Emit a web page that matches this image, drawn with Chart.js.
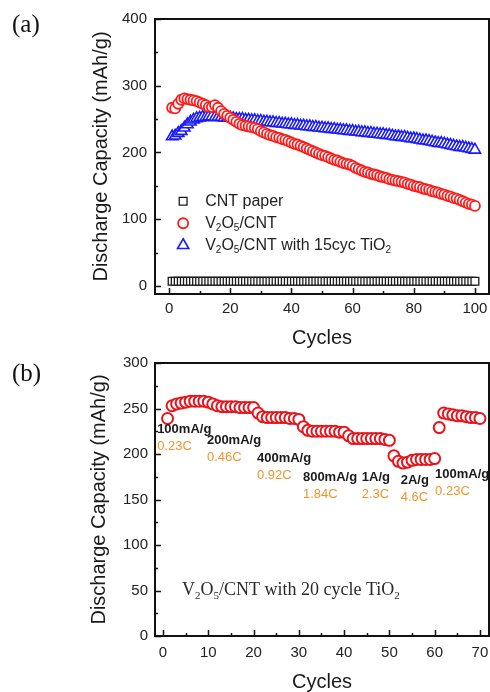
<!DOCTYPE html>
<html>
<head>
<meta charset="utf-8">
<script src="https://cdn.jsdelivr.net/npm/chart.js@4.4.1/dist/chart.umd.min.js"></script>
<style>
  html, body { margin: 0; padding: 0; background: #fff; }
  #wrap { position: relative; width: 490px; height: 692px; overflow: hidden; }
  canvas { position: absolute; left: 0; }
  #chartA { top: 0; }
  #chartB { top: 344px; }
  .panel { position: absolute; left: 12px; font: 25px 'Liberation Serif', 'Times New Roman', serif; line-height: 25px; color: #111; }
</style>
</head>
<body>
<div id="wrap">
  <canvas id="chartA" width="490" height="348"></canvas>
  <canvas id="chartB" width="490" height="352"></canvas>
  <div class="panel" style="top:11px">(a)</div>
  <div class="panel" style="top:360px">(b)</div>
</div>
<script>
// ---- panel (a): cycling at one rate, 100 cycles ----
const seriesNamesA = ['CNT paper', 'V_2O_5/CNT', 'V_2O_5/CNT with 15cyc TiO_2'];
const cntPaper = [
  7,7,7,7,7,7,7,7,7,7, 7,7,7,7,7,7,7,7,7,7, 7,7,7,7,7,7,7,7,7,7, 7,7,7,7,7,7,7,7,7,7,
  7,7,7,7,7,7,7,7,7,7, 7,7,7,7,7,7,7,7,7,7, 7,7,7,7,7,7,7,7,7,7, 7,7,7,7,7,7,7,7,7,7,
  7,7,7,7,7,7,7,7,7,7, 7,7,7,7,7,7,7,7,7,7
];
const v2o5Cnt = [
  267,266,273,279,281,280,279,278,277,275, 273,271,268,268,271,267,262,258,255,252,
  249,246,243,241,240,239,238,237,235,232, 230,228,226,225,223,222,220,219,217,215,
  213,212,210,208,206,204,202,200,198,196, 195,193,191,189,188,186,184,183,182,180,
  177,175,173,171,170,168,167,166,164,163, 162,160,159,158,157,156,155,153,152,150,
  149,148,146,145,144,142,141,140,138,137, 135,134,132,131,129,127,125,123,122,120
];
const v2o5CntTiO2 = [
  224,225,229,232,237,242,246,249,251,252, 253,253,254,254,253,253,253,252,252,252,
  251,250,250,250,249,249,248,248,247,247, 246,246,245,245,244,244,243,243,242,242,
  241,241,240,240,239,239,238,238,237,237, 236,236,235,235,234,234,233,233,232,232,
  231,231,230,230,229,229,228,228,227,227, 226,226,225,224,224,223,223,222,221,221,
  220,219,218,218,217,216,215,214,214,213, 212,211,210,209,208,208,207,206,205,204
];
const xTicksA = [0, 20, 40, 60, 80, 100];
const xMinorA = [10, 30, 50, 70, 90];
const yTicksA = [0, 100, 200, 300, 400];
const yMinorA = [50, 150, 250, 350];

// ---- panel (b): rate capability, 70 cycles ----
const rateCapacity = [
  239,253,255,256,257,258,258,258,258,257, 255,253,252,252,252,252,251,251,251,251,
  245,241,240,240,240,240,240,239,239,238, 230,226,225,225,225,225,225,225,224,224,
  220,217,217,217,217,217,217,217,216,215, 198,192,190,191,193,194,194,194,194,195,
  229,245,244,243,242,242,241,240,240,239
];
const currentLabels = ['100mA/g', '200mA/g', '400mA/g', '800mA/g', '1A/g', '2A/g', '100mA/g'];
const cRateLabels = ['0.23C', '0.46C', '0.92C', '1.84C', '2.3C', '4.6C', '0.23C'];
const sampleNameB = 'V_2O_5/CNT with 20 cycle TiO_2';
const xTicksB = [0, 10, 20, 30, 40, 50, 60, 70];
const xMinorB = [5, 15, 25, 35, 45, 55, 65];
const yTicksB = [0, 50, 100, 150, 200, 250, 300];
const yMinorB = [25, 75, 125, 175, 225, 275];

const SANS = "'Liberation Sans', Arial, sans-serif";
const SERIF = "'Liberation Serif', 'Times New Roman', serif";
Chart.defaults.font.family = SANS;
Chart.defaults.color = '#222';

// text with "_5" style subscripts
function drawRich(ctx, text, x, y, size, family, weight, color) {
  ctx.save();
  ctx.fillStyle = color;
  ctx.textBaseline = 'middle';
  ctx.textAlign = 'left';
  let cx = x;
  text.split(/(_\d)/).forEach(p => {
    if (!p) return;
    if (p[0] === '_') {
      ctx.font = `${weight} ${Math.round(size * 0.62)}px ${family}`;
      ctx.fillText(p.slice(1), cx, y + size * 0.32);
      cx += ctx.measureText(p.slice(1)).width;
    } else {
      ctx.font = `${weight} ${size}px ${family}`;
      ctx.fillText(p, cx, y);
      cx += ctx.measureText(p).width;
    }
  });
  ctx.restore();
}

const toPoints = vals => vals.map((v, i) => ({ x: i + 1, y: v }));

// box frame plus inward major/minor ticks
const framePlugin = {
  id: 'frame',
  afterDatasetsDraw(chart, args, opts) {
    const { ctx, chartArea: a, scales: { x, y } } = chart;
    ctx.save();
    ctx.strokeStyle = '#111';
    ctx.lineWidth = 1.5;
    ctx.beginPath();
    const xt = (vals, len) => vals.forEach(v => {
      const px = Math.round(x.getPixelForValue(v)) + 0.5;
      ctx.moveTo(px, a.bottom); ctx.lineTo(px, a.bottom - len);
    });
    const yt = (vals, len) => vals.forEach(v => {
      const py = Math.round(y.getPixelForValue(v)) + 0.5;
      ctx.moveTo(a.left, py); ctx.lineTo(a.left + len, py);
    });
    xt(opts.xMajor, 6); xt(opts.xMinor, 3);
    yt(opts.yMajor, 6); yt(opts.yMinor, 3);
    ctx.stroke();
    ctx.lineWidth = 2;
    ctx.strokeRect(a.left, a.top, a.right - a.left, a.bottom - a.top);
    ctx.restore();
  }
};

// legend inside the plot area
const keyPlugin = {
  id: 'key',
  afterDatasetsDraw(chart, args, opts) {
    if (!opts.rows) return;
    const { ctx, scales: { x, y } } = chart;
    chart.data.datasets.forEach((ds, i) => {
      const py = y.getPixelForValue(opts.rows[i]);
      ctx.save();
      ctx.strokeStyle = ds.borderColor;
      ctx.fillStyle = '#fff';
      ctx.lineWidth = ds.borderWidth;
      Chart.helpers.drawPoint(ctx, { pointStyle: ds.pointStyle, radius: ds.pointRadius, borderWidth: ds.borderWidth, rotation: 0 },
        x.getPixelForValue(opts.markX), py);
      ctx.restore();
      drawRich(ctx, ds.label, x.getPixelForValue(opts.textX), py, 16, SANS, 'normal', '#222');
    });
  }
};

// free text notes placed in data coordinates
const notesPlugin = {
  id: 'notes',
  afterDatasetsDraw(chart, args, opts) {
    if (!opts.items) return;
    const { ctx, scales: { x, y } } = chart;
    opts.items.forEach(n => {
      drawRich(ctx, n.text, x.getPixelForValue(n.x), y.getPixelForValue(n.y) + (n.dy || 0),
        n.size, n.family, n.weight, n.color);
    });
  }
};

function axes(cfg) {
  return {
    x: {
      type: 'linear', min: cfg.xMin, max: cfg.xMax,
      afterBuildTicks: s => { s.ticks = cfg.xTicks.map(v => ({ value: v })); },
      afterFit: s => { s.height = cfg.xHeight; s.paddingLeft = 0; s.paddingRight = 0; },
      grid: { display: false, drawTicks: false }, border: { display: false },
      ticks: { font: { size: 15 }, color: '#222', padding: cfg.xPad, maxRotation: 0, autoSkip: false },
      title: { display: true, text: 'Cycles', color: '#1a1a1a', font: { size: 20, lineHeight: 1 }, padding: 0 }
    },
    y: {
      type: 'linear', min: cfg.yMin, max: cfg.yMax,
      afterBuildTicks: s => { s.ticks = cfg.yTicks.map(v => ({ value: v })); },
      afterFit: s => { s.width = cfg.yWidth; s.paddingTop = 0; s.paddingBottom = 0; },
      grid: { display: false, drawTicks: false }, border: { display: false },
      ticks: { font: { size: 15 }, color: '#222', padding: cfg.yPad, autoSkip: false },
      title: { display: true, text: 'Discharge Capacity (mAh/g)', color: '#1a1a1a', font: { size: 20, lineHeight: 1.2 }, padding: { top: 4, bottom: 0 } }
    }
  };
}

new Chart(document.getElementById('chartA'), {
  type: 'scatter',
  data: {
    datasets: [
      { label: seriesNamesA[0], data: toPoints(cntPaper), pointStyle: 'rect', pointRadius: 5.5,
        borderColor: '#1a1a1a', backgroundColor: '#fff', borderWidth: 1.3 },
      { label: seriesNamesA[1], data: toPoints(v2o5Cnt), pointStyle: 'circle', pointRadius: 5,
        borderColor: '#ff1a1a', backgroundColor: '#fff', borderWidth: 1.8 },
      { label: seriesNamesA[2], data: toPoints(v2o5CntTiO2), pointStyle: 'triangle', pointRadius: 6.5,
        borderColor: '#1a1aff', backgroundColor: '#fff', borderWidth: 1.6 }
    ]
  },
  options: {
    responsive: false, animation: false, devicePixelRatio: 1,
    layout: { autoPadding: false, padding: { left: 85, top: 19, right: 1, bottom: 0 } },
    scales: axes({ xMin: -4.6, xMax: 104.6, yMin: -12, yMax: 400, xTicks: xTicksA, yTicks: yTicksA,
      xHeight: 54, yWidth: 70, xPad: 6, yPad: 8 }),
    plugins: {
      legend: { display: false }, tooltip: { enabled: false },
      frame: { xMajor: xTicksA, xMinor: xMinorA, yMajor: yTicksA, yMinor: yMinorA },
      key: { markX: 4.6, textX: 11.8, rows: [127, 94, 61] }
    }
  },
  plugins: [framePlugin, keyPlugin]
});

// note positions (data units) for the rate labels in panel (b)
const noteAnchors = [[-1.3, 227.5], [9.7, 215.4], [20.75, 195.6], [30.9, 174.7], [43.9, 174.7], [52.5, 171.4], [60.1, 178]];
const notesB = [];
currentLabels.forEach((t, i) => {
  const [nx, ny] = noteAnchors[i];
  notesB.push({ text: t, x: nx, y: ny, size: 13, family: SANS, weight: 'bold', color: '#1a1a1a' });
  notesB.push({ text: cRateLabels[i], x: nx, y: ny, dy: 17, size: 13, family: SANS, weight: 'normal', color: '#f0952c' });
});
notesB.push({ text: sampleNameB, x: 4.2, y: 49.8, size: 18, family: SERIF, weight: 'normal', color: '#2a2a2a' });

new Chart(document.getElementById('chartB'), {
  type: 'scatter',
  data: {
    datasets: [
      { label: sampleNameB, data: toPoints(rateCapacity), pointStyle: 'circle', pointRadius: 5.5,
        borderColor: '#e8141c', backgroundColor: '#fff', borderWidth: 2 }
    ]
  },
  options: {
    responsive: false, animation: false, devicePixelRatio: 1,
    layout: { autoPadding: false, padding: { left: 83, top: 19, right: 1, bottom: 4 } },
    scales: axes({ xMin: -1.77, xMax: 72, yMin: 0, yMax: 300, xTicks: xTicksB, yTicks: yTicksB,
      xHeight: 56, yWidth: 72, xPad: 8, yPad: 7 }),
    plugins: {
      legend: { display: false }, tooltip: { enabled: false },
      frame: { xMajor: xTicksB, xMinor: xMinorB, yMajor: yTicksB, yMinor: yMinorB },
      notes: { items: notesB }
    }
  },
  plugins: [framePlugin, notesPlugin]
});
</script>
</body>
</html>
